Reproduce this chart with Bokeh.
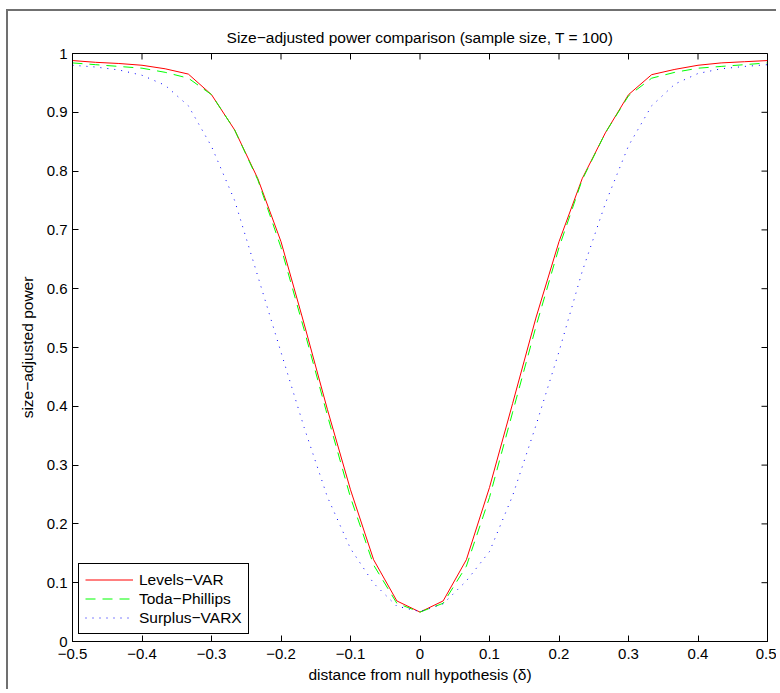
from bokeh.plotting import figure
from bokeh.models import Range1d, FixedTicker
from bokeh.embed import file_html
from bokeh.resources import INLINE

# ---------------- data ----------------
delta = [-0.5, -0.4667, -0.4333, -0.4, -0.3667, -0.3333, -0.3, -0.2667, -0.2333, -0.2,
         -0.1667, -0.1333, -0.1, -0.0667, -0.0333, 0.0, 0.0333, 0.0667, 0.1, 0.1333,
         0.1667, 0.2, 0.2333, 0.2667, 0.3, 0.3333, 0.3667, 0.4, 0.4333, 0.4667, 0.5]

levels_var = [0.988, 0.985, 0.983, 0.980, 0.974, 0.965, 0.930, 0.870, 0.787, 0.680,
              0.540, 0.395, 0.258, 0.139, 0.069, 0.050, 0.069, 0.139, 0.262, 0.405,
              0.550, 0.680, 0.787, 0.865, 0.930, 0.964, 0.973, 0.980, 0.984, 0.986, 0.988]

toda_phillips = [0.984, 0.981, 0.978, 0.975, 0.968, 0.958, 0.930, 0.870, 0.785, 0.670,
                 0.530, 0.385, 0.245, 0.130, 0.065, 0.050, 0.065, 0.128, 0.245, 0.390,
                 0.535, 0.670, 0.785, 0.865, 0.928, 0.958, 0.968, 0.975, 0.978, 0.981, 0.984]

surplus_varx = [0.980, 0.977, 0.972, 0.963, 0.946, 0.911, 0.842, 0.750, 0.621, 0.492,
                0.364, 0.246, 0.158, 0.099, 0.060, 0.051, 0.064, 0.103, 0.153, 0.248,
                0.367, 0.493, 0.629, 0.745, 0.843, 0.911, 0.948, 0.966, 0.974, 0.978, 0.981]

series_names = ["Levels\u2212VAR", "Toda\u2212Phillips", "Surplus\u2212VARX"]

x_ticks = [-0.5, -0.4, -0.3, -0.2, -0.1, 0.0, 0.1, 0.2, 0.3, 0.4, 0.5]
x_tick_labels = ["\u22120.5", "\u22120.4", "\u22120.3", "\u22120.2", "\u22120.1", "0",
                 "0.1", "0.2", "0.3", "0.4", "0.5"]
y_ticks = [0.0, 0.1, 0.2, 0.3, 0.4, 0.5, 0.6, 0.7, 0.8, 0.9, 1.0]
y_tick_labels = ["0", "0.1", "0.2", "0.3", "0.4", "0.5", "0.6", "0.7", "0.8", "0.9", "1"]

title_text = "Size\u2212adjusted power comparison (sample size, T = 100)"
x_label = "distance from null hypothesis (\u03b4)"
y_label = "size\u2212adjusted power"

FONT = "Liberation Sans"
FS = "15.5px"
FS_TICK = "15px"

# ---------------- figure ----------------
p = figure(width=770, height=680, output_backend="svg", toolbar_location=None,
           x_range=Range1d(-0.5, 0.5), y_range=Range1d(0, 1),
           min_border_left=64, min_border_right=11, min_border_top=42, min_border_bottom=50,
           x_axis_label=x_label, y_axis_label=y_label)
p.styles = {"margin-left": "6px", "margin-top": "9px",
            "border-left": "2px solid #707070", "border-top": "2px solid #707070"}

p.title.text = title_text
p.title.align = "center"
p.title.text_font = FONT
p.title.text_font_size = FS
p.title.text_font_style = "normal"
p.title.text_color = "black"
p.title.standoff = 15

p.xgrid.visible = False
p.ygrid.visible = False
p.outline_line_color = "black"
p.outline_line_width = 1
p.outline_line_alpha = 1
p.background_fill_color = "white"
p.border_fill_color = "white"

x_override = {v: s for v, s in zip(x_ticks, x_tick_labels)}
y_override = {v: s for v, s in zip(y_ticks, y_tick_labels)}

for ax, ticks, ov in ((p.xaxis[0], x_ticks, x_override), (p.yaxis[0], y_ticks, y_override)):
    ax.ticker = FixedTicker(ticks=ticks)
    ax.major_label_overrides = ov
    ax.major_tick_in = 6
    ax.major_tick_out = 0
    ax.minor_tick_in = 0
    ax.minor_tick_out = 0
    ax.axis_line_color = "black"
    ax.major_tick_line_color = "black"
    ax.major_label_text_font = FONT
    ax.major_label_text_font_size = FS_TICK
    ax.major_label_text_color = "black"
    ax.axis_label_text_font = FONT
    ax.axis_label_text_font_size = FS
    ax.axis_label_text_font_style = "normal"
    ax.axis_label_text_color = "black"

p.xaxis[0].major_label_standoff = 7
p.xaxis[0].axis_label_standoff = 4
p.yaxis[0].major_label_standoff = 5
p.yaxis[0].axis_label_standoff = 8

# mirrored inward ticks on the top and right edges of the box (half clipped by the frame)
p.scatter(x_ticks, [y_ticks[-1]] * len(x_ticks), marker="dash", angle=1.5707963,
          size=12, line_color="black", line_width=1)
p.scatter([x_ticks[-1]] * len(y_ticks), y_ticks, marker="dash",
          size=12, line_color="black", line_width=1)

# ---------------- lines ----------------
p.multi_line(xs=[delta], ys=[levels_var], line_color="#ff0000", line_width=1,
             legend_label=series_names[0])
p.multi_line(xs=[delta], ys=[toda_phillips], line_color="#00ff00", line_width=1,
             line_dash="10 7", legend_label=series_names[1])
p.multi_line(xs=[delta], ys=[surplus_varx], line_color="#0000ff", line_width=1,
             line_dash="1 6", legend_label=series_names[2])

lg = p.legend[0]
lg.location = (6, 7)
lg.label_text_font = FONT
lg.label_text_font_size = FS
lg.label_text_color = "black"
lg.glyph_width = 48
lg.glyph_height = 19
lg.label_height = 19
lg.label_standoff = 6
lg.spacing = 0
lg.padding = 6
lg.margin = 0
lg.border_line_color = "black"
lg.border_line_width = 1
lg.border_line_alpha = 1
lg.background_fill_color = "white"
lg.background_fill_alpha = 1

open("out.html", "w").write(file_html(p, INLINE))
